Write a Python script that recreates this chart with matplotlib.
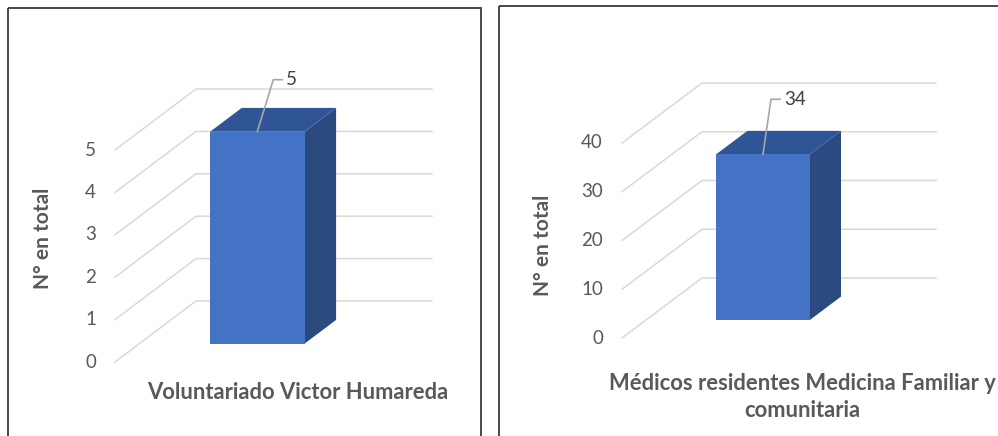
import matplotlib.pyplot as plt
from matplotlib.patches import Rectangle, Polygon

plt.rcParams['font.family'] = ['Lato', 'DejaVu Sans']

# data
left_category = "Voluntariado Victor Humareda"
left_value = 5
left_ticks = [0, 1, 2, 3, 4, 5]

right_category = "Médicos residentes Medicina Familiar y\ncomunitaria"
right_value = 34
right_ticks = [0, 10, 20, 30, 40]

y_title = "N° en total"

W, H = 998, 436
FRONT = '#4472C4'
TOP = '#2F5597'
SIDE = '#2A4A80'
GRID = '#D9D9D9'
TXT = '#595959'

fig = plt.figure(figsize=(W / 100, H / 100), dpi=100)
bg = fig.add_axes([0, 0, 1, 1])
bg.set_xlim(0, W)
bg.set_ylim(H, 0)
bg.axis('off')
bg.add_patch(Rectangle((8, 8), 473, 440, fill=False, ec='#3a3a3a', lw=1.3))
bg.add_patch(Rectangle((499, 6), 520, 440, fill=False, ec='#3a3a3a', lw=1.3))


def chart(px_left, px_right, px_zero, px_top, depth_px, value, ticks, lead):
    # axes box in pixels: left edge = front axis, right = back wall end
    ax = fig.add_axes([px_left / W, 1 - px_zero / H,
                       (px_right - px_left) / W, (px_zero - px_top) / H])
    ax.axis('off')
    DX = depth_px[0] / (px_right - px_left - depth_px[0])  # in category units
    span_px = px_zero - px_top - depth_px[1]
    DY = depth_px[1] * ticks[-1] / span_px  # in value units
    ax.set_xlim(-0.5, 0.5 + DX)
    ax.set_ylim(0, ticks[-1] + DY)
    px_x = (px_right - px_left) / (1 + DX)
    px_y = span_px / ticks[-1]

    def P(x, y, z):
        return (x + z * DX, y + z * DY)

    for t in ticks:
        a, b, c = P(-0.5, t, 0), P(-0.5, t, 1), P(0.5, t, 1)
        ax.plot([a[0], b[0], c[0]], [a[1], b[1], c[1]], color=GRID, lw=1.1,
                zorder=1, clip_on=False)
        ax.text(-0.5 - 19 / px_x, t, str(t), ha='right', va='center',
                fontsize=13.5, color=TXT, clip_on=False)

    x0, x1, z0, z1 = -0.2, 0.2, 0.3, 0.69
    front = [P(x0, 0, z0), P(x1, 0, z0), P(x1, value, z0), P(x0, value, z0)]
    top = [P(x0, value, z0), P(x1, value, z0), P(x1, value, z1), P(x0, value, z1)]
    side = [P(x1, 0, z0), P(x1, 0, z1), P(x1, value, z1), P(x1, value, z0)]
    ax.add_patch(Polygon(side, closed=True, fc=SIDE, ec='none', zorder=2))
    ax.add_patch(Polygon(top, closed=True, fc=TOP, ec='none', zorder=2))
    ax.add_patch(Polygon(front, closed=True, fc=FRONT, ec='none', zorder=3))

    # data label with leader line
    ax_, ay_ = P(0, value, z0)
    bx, by = ax_ + lead[0] / px_x, ay_ + lead[1] / px_y
    cx = bx + 9 / px_x
    ax.plot([ax_, bx, cx], [ay_, by, by], color='#A6A6A6', lw=1.2, zorder=4,
            clip_on=False)
    ax.text(cx + 4 / px_x, by, str(value), ha='left', va='center', fontsize=13.5,
            color='#404040', clip_on=False)
    return ax


chart(115, 432, 362, 89, (81, 61), left_value, left_ticks, (16, 52))
chart(622, 936, 338, 83, (80, 60), right_value, right_ticks, (8, 55))

bg.text(43, 238, y_title, rotation=90, ha='center', va='center',
        fontsize=15, fontweight='bold', color=TXT)
bg.text(543, 245, y_title, rotation=90, ha='center', va='center',
        fontsize=15, fontweight='bold', color=TXT)
bg.text(298, 392, left_category, ha='center', va='center',
        fontsize=15.8, fontweight='bold', color=TXT)
bg.text(802, 397, right_category, ha='center', va='center',
        fontsize=15.8, fontweight='bold', color=TXT, linespacing=1.3)

fig.savefig('out.png', dpi=100, facecolor='white')
